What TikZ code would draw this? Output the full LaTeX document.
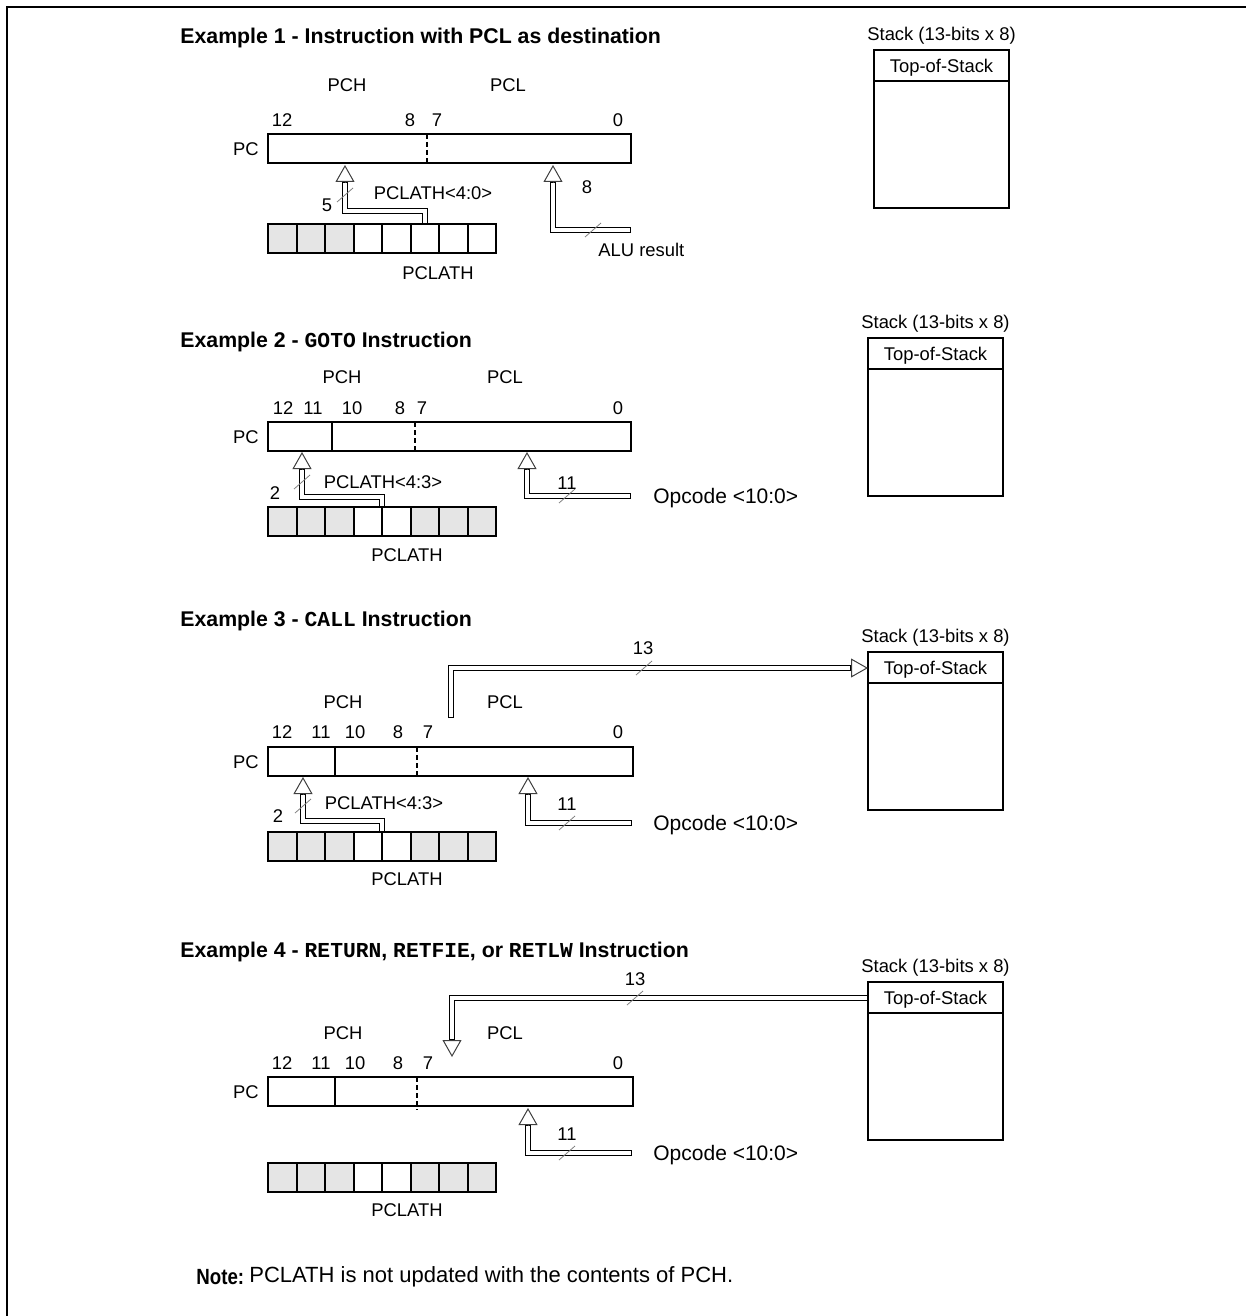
\documentclass[tikz,border=0pt]{standalone}
\usepackage{fontspec}
\setmainfont{Liberation Sans}
\setmonofont{Liberation Mono}
\usetikzlibrary{arrows.meta,calc}
\tikzset{
  frame/.style    = {line width=1pt},
  reg/.style      = {draw,line width=1pt},
  regsplit/.style = {line width=1pt},
  regdash/.style  = {line width=1pt,dash pattern=on 2.5pt off 1.5pt},
  cellgray/.style = {fill=black!10},
  lbl/.style      = {font=\fontsize{9.2}{10}\selectfont,inner sep=0pt},
  lblw/.style     = {lbl,anchor=west},
  srclbl/.style   = {font=\fontsize{10.5}{12}\selectfont,inner sep=0pt,anchor=west},
  ttl/.style      = {font=\fontsize{10.65}{12}\selectfont\bfseries,inner sep=0pt,anchor=west},
  notelbl/.style  = {font=\fontsize{11}{13}\selectfont,inner sep=0pt,anchor=west},
  notehead/.style = {notelbl,font=\fontsize{11}{13}\selectfont\bfseries},
  bus/.style      = {line width=2.8pt,line join=miter,
                     postaction={draw=white,line width=1.8pt,
                                 shorten <=0.5pt,shorten >=0.5pt}},
  bustip/.style   = {-{Triangle[length=8.5pt,width=9.5pt,fill=white]},
                     draw=black!75,line width=0.5pt},
  tick/.style     = {draw=black!50,line width=0.4pt},
}
% PC register: name, top y, right x
\newcommand{\pcreg}[3]{%
  \coordinate (#1-nw) at (268,#2);
  \coordinate (#1-se) at (#3,#2+29);
  \draw[reg] (#1-nw) rectangle (#1-se);
  \node[lbl] (#1-name) at (246,#2+15) {PC};
}
% PCLATH register: name, top y, grey cells
\newcommand{\pclath}[3]{%
  \begin{scope}[shift={(268,#2)}]
    \foreach \i in {#3} \fill[cellgray] (28.5*\i,0) rectangle ++(28.5,29);
    \foreach \i in {0,...,7} \draw[reg] (28.5*\i,0) rectangle ++(28.5,29);
    \coordinate (#1-b43) at (114,0);
    \coordinate (#1-b40) at (156.75,0);
  \end{scope}%
}
% stack: name, left x, top y
\newcommand{\stackbox}[3]{%
  \begin{scope}[shift={(#2,#3)}]
    \draw[reg] (0,0) rectangle (135,158);
    \draw[reg] (0,31) -- (135,31);
    \node[lbl] (#1-cap) at (67.5,-14) {Stack (13-bits x 8)};
    \node[lbl] (#1-tos) at (67.5,18) {Top-of-Stack};
    \coordinate (#1-in) at (0,16);
    \coordinate (#1-inb) at (-17,16);
  \end{scope}%
}
\newcommand{\busmark}[1]{\draw[tick] ($(#1)+(-8,7)$) -- ($(#1)+(8,-7)$);}

\begin{document}
\begin{tikzpicture}[x=0.5pt,y=-0.5pt]
  \useasboundingbox (0,0) rectangle (1246,1316);
  \draw[frame] (7,1316) -- (7,7) -- (1246,7);

  % Example 1 - PCL as destination
  \node[ttl] (ttlA) at (180,38) {Example 1 - Instruction with PCL as destination};
  \stackbox{stkA}{874}{50}
  \node[lbl] (pchA) at (347,85) {PCH};
  \node[lbl] (pclA) at (508,85) {PCL};
  \foreach \b/\x in {12/282,8/410,7/437,0/618}
    \node[lbl] (bitA\b) at (\x,120) {\b};
  \pcreg{pcA}{134}{631}
  \draw[regdash] (427,134) -- (427,166);
  \pclath{lathA}{224}{0,1,2}
  \node[lbl] (lathA-name) at (438,273) {PCLATH};
  \coordinate (upA1) at (345,165);
  \coordinate (upA1b) at (345,182);
  \coordinate (upA2) at (553,165);
  \coordinate (upA2b) at (553,182);
  \coordinate (aluA) at (631,230);
  \draw[bus] (lathA-b40) -- ++(0,-13) -| (upA1b);
  \draw[bustip] (upA1b) -- (upA1);
  \draw[bus] (aluA) -| (upA2b);
  \draw[bustip] (upA2b) -- (upA2);
  \coordinate (mkA1) at (345,195);
  \coordinate (mkA2) at (593,230);
  \busmark{mkA1}
  \busmark{mkA2}
  \node[lbl] (wA1) at (327,205) {5};
  \node[lbl] (srcA1) at (433,193) {PCLATH<4:0>};
  \node[lbl] (wA2) at (587,187) {8};
  \node[lblw] (srcA2) at (598,250) {ALU result};

  % Example 2 - GOTO
  \node[ttl] (ttlB) at (180,342) {Example 2 - \texttt{GOTO} Instruction};
  \stackbox{stkB}{868}{338}
  \node[lbl] (pchB) at (342,377) {PCH};
  \node[lbl] (pclB) at (505,377) {PCL};
  \foreach \b/\x in {12/283,11/313,10/352,8/400,7/422,0/618}
    \node[lbl] (bitB\b) at (\x,408) {\b};
  \pcreg{pcB}{422}{631}
  \draw[regsplit] (332,422) -- (332,451);
  \draw[regdash] (415,422) -- (415,454);
  \pclath{lathB}{507}{0,1,2,5,6,7}
  \node[lbl] (lathB-name) at (407,555) {PCLATH};
  \coordinate (upB1) at (302,452);
  \coordinate (upB1b) at (302,469);
  \coordinate (upB2) at (527,452);
  \coordinate (upB2b) at (527,469);
  \coordinate (opB) at (631,496);
  \draw[bus] (lathB-b43) -- ++(0,-10) -| (upB1b);
  \draw[bustip] (upB1b) -- (upB1);
  \draw[bus] (opB) -| (upB2b);
  \draw[bustip] (upB2b) -- (upB2);
  \coordinate (mkB1) at (302,482);
  \coordinate (mkB2) at (567,496);
  \busmark{mkB1}
  \busmark{mkB2}
  \node[lbl] (wB1) at (275,493) {2};
  \node[lbl] (srcB1) at (383,482) {PCLATH<4:3>};
  \node[lbl] (wB2) at (567,483) {11};
  \node[srclbl] (srcB2) at (653,498) {Opcode <10:0>};

  % Example 3 - CALL
  \node[ttl] (ttlC) at (180,621) {Example 3 - \texttt{CALL} Instruction};
  \stackbox{stkC}{868}{652}
  \coordinate (outC) at (451,718);
  \draw[bus] (outC) |- (stkC-inb);
  \draw[bustip] (stkC-inb) -- (stkC-in);
  \coordinate (mkC0) at (644,668);
  \busmark{mkC0}
  \node[lbl] (wC0) at (643,648) {13};
  \node[lbl] (pchC) at (343,702) {PCH};
  \node[lbl] (pclC) at (505,702) {PCL};
  \foreach \b/\x in {12/282,11/321,10/355,8/398,7/428,0/618}
    \node[lbl] (bitC\b) at (\x,732) {\b};
  \pcreg{pcC}{747}{633}
  \draw[regsplit] (335,747) -- (335,776);
  \draw[regdash] (417,747) -- (417,779);
  \pclath{lathC}{832}{0,1,2,5,6,7}
  \node[lbl] (lathC-name) at (407,879) {PCLATH};
  \coordinate (upC1) at (303,777);
  \coordinate (upC1b) at (303,794);
  \coordinate (upC2) at (528,777);
  \coordinate (upC2b) at (528,794);
  \coordinate (opC) at (632,823);
  \draw[bus] (lathC-b43) -- ++(0,-11) -| (upC1b);
  \draw[bustip] (upC1b) -- (upC1);
  \draw[bus] (opC) -| (upC2b);
  \draw[bustip] (upC2b) -- (upC2);
  \coordinate (mkC1) at (303,806);
  \coordinate (mkC2) at (567,823);
  \busmark{mkC1}
  \busmark{mkC2}
  \node[lbl] (wC1) at (278,816) {2};
  \node[lbl] (srcC1) at (384,803) {PCLATH<4:3>};
  \node[lbl] (wC2) at (567,804) {11};
  \node[srclbl] (srcC2) at (653,825) {Opcode <10:0>};

  % Example 4 - RETURN, RETFIE, RETLW
  \node[ttl] (ttlD) at (180,952)
        {Example 4 - \texttt{RETURN}, \texttt{RETFIE}, or \texttt{RETLW} Instruction};
  \stackbox{stkD}{868}{982}
  \coordinate (dnD) at (452,1057);
  \coordinate (dnDb) at (452,1040);
  \draw[bus] (stkD-in) -| (dnDb);
  \draw[bustip] (dnDb) -- (dnD);
  \coordinate (mkD0) at (635,998);
  \busmark{mkD0}
  \node[lbl] (wD0) at (635,979) {13};
  \node[lbl] (pchD) at (343,1033) {PCH};
  \node[lbl] (pclD) at (505,1033) {PCL};
  \foreach \b/\x in {12/282,11/321,10/355,8/398,7/428,0/618}
    \node[lbl] (bitD\b) at (\x,1063) {\b};
  \pcreg{pcD}{1077}{633}
  \draw[regsplit] (335,1077) -- (335,1106);
  \draw[regdash] (417,1077) -- (417,1110);
  \pclath{lathD}{1163}{0,1,2,5,6,7}
  \node[lbl] (lathD-name) at (407,1210) {PCLATH};
  \coordinate (upD2) at (528,1108);
  \coordinate (upD2b) at (528,1125);
  \coordinate (opD) at (632,1153);
  \draw[bus] (opD) -| (upD2b);
  \draw[bustip] (upD2b) -- (upD2);
  \coordinate (mkD2) at (567,1153);
  \busmark{mkD2}
  \node[lbl] (wD2) at (567,1134) {11};
  \node[srclbl] (srcD2) at (653,1155) {Opcode <10:0>};

  % note
  \node[notehead] (noteA) at (196,1277) {\scalebox{0.85}[1]{Note:}};
  \node[notelbl] (noteB) at (249,1277) {PCLATH is not updated with the contents of PCH.};
\end{tikzpicture}
\end{document}
